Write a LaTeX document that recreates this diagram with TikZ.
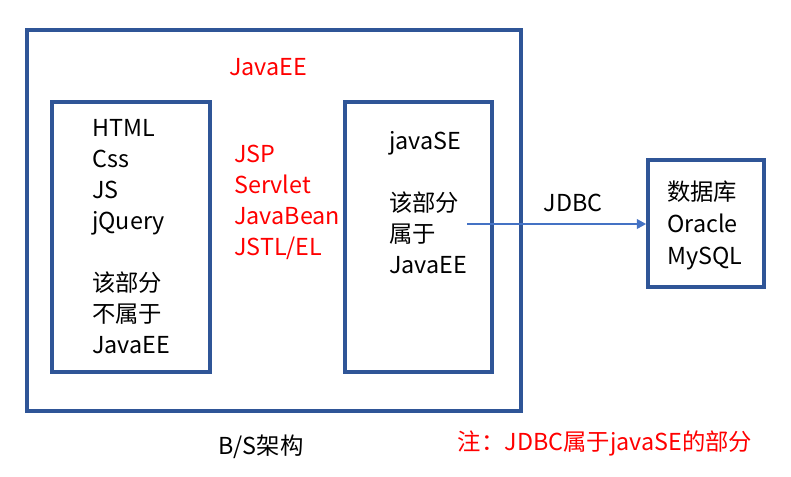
\documentclass[tikz,border=0pt]{standalone}
\usepackage{fontspec}
\setmainfont{Noto Sans CJK SC}
\usetikzlibrary{arrows.meta}
\definecolor{frameblue}{HTML}{2F5597}
\definecolor{linkblue}{HTML}{4472C4}
\definecolor{notered}{HTML}{FF0000}
\tikzset{
  box/.style={draw=frameblue, line width=2.6pt, rectangle, inner sep=0pt},
  txt/.style={inner sep=0pt, align=left, anchor=west,
    font=\fontsize{17.5}{23.25}\selectfont},
  redtxt/.style={txt, text=notered},
  link/.style={draw=linkblue, line width=1.9pt,
    -{Triangle[length=7pt, width=7pt]}}
}
\begin{document}
\begin{tikzpicture}[x=0.75pt, y=-0.75pt]
  \useasboundingbox (0,0) rectangle (791,476);
  % frames
  \node [box, minimum width=370.5pt, minimum height=285.75pt] (javaee) at (274,220.5) {};
  \node [box, minimum width=118.5pt, minimum height=202.5pt] (client) at (131,237) {};
  \node [box, minimum width=110.25pt, minimum height=202.5pt] (server) at (418.5,237) {};
  \node [box, minimum width=87pt, minimum height=95.25pt] (db) at (706,223.5) {};
  % texts
  \node [redtxt, anchor=center] (title) at (268,67) {JavaEE};
  \node [txt] (clienttext) at (92,237) {HTML\\Css\\JS\\jQuery\\[23.25pt]该部分\\不属于\\JavaEE};
  \node [redtxt] (webtext) at (234,202) {JSP\\Servlet\\JavaBean\\JSTL/EL};
  \node [txt] (servertext) at (389,203) {javaSE\\[23.25pt]该部分\\属于\\JavaEE};
  \node [txt, font=\fontsize{17.5}{24}\selectfont] (dbtext) at (667,225) {数据库\\Oracle\\MySQL};
  \node [txt, anchor=center] (jdbc) at (573,203) {JDBC};
  \node [txt, anchor=center] (caption) at (261,447) {B/S架构};
  \node [redtxt, anchor=center] (note) at (605,443) {注：JDBC属于javaSE的部分};
  % connector
  \coordinate (src) at (467,224);
  \draw [link] (src) -- (src -| db.west);
\end{tikzpicture}
\end{document}
